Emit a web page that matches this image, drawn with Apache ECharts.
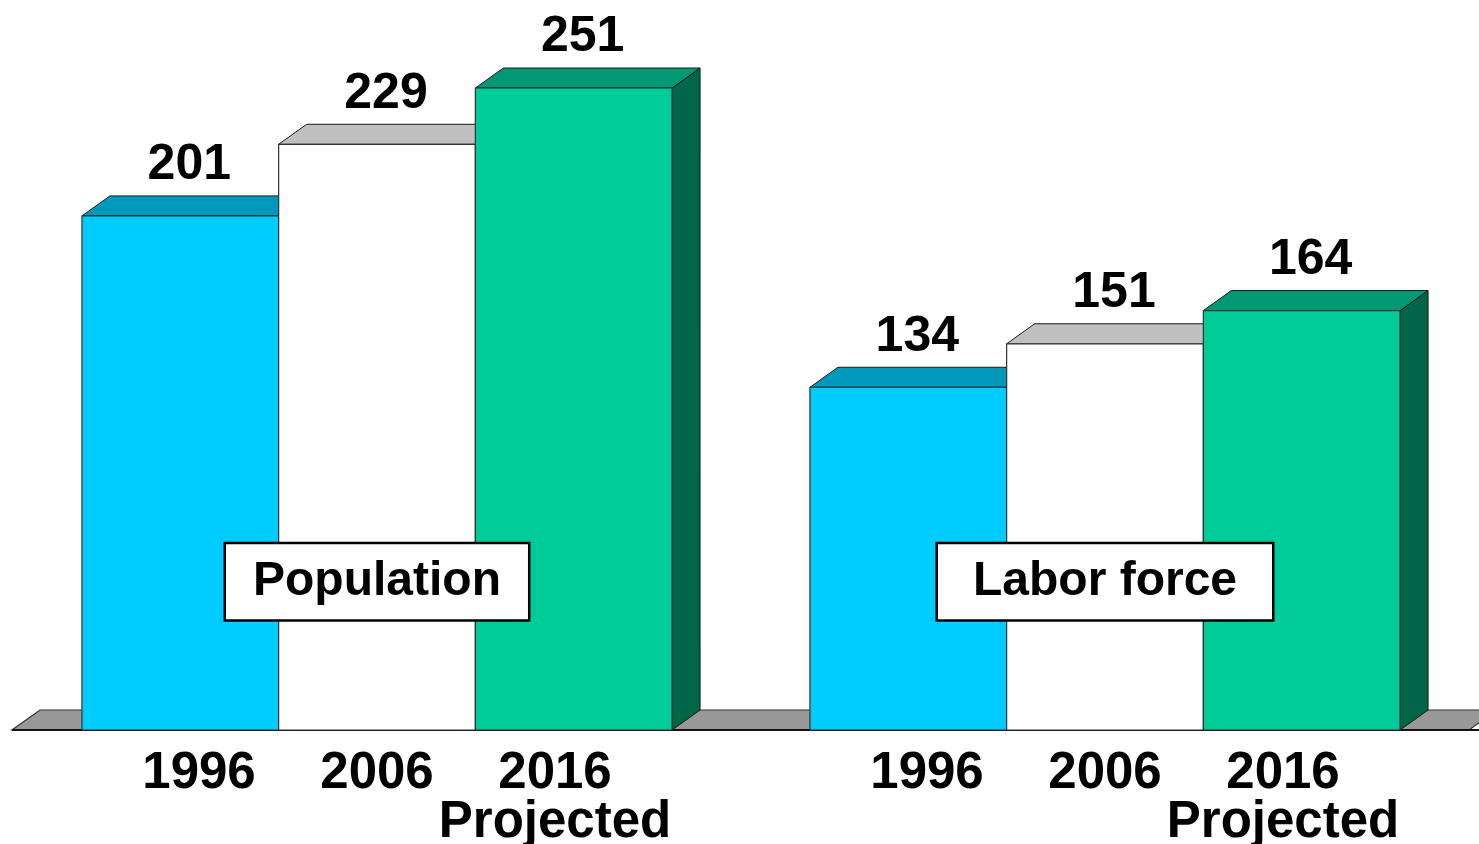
<!DOCTYPE html>
<html>
<head>
<meta charset="utf-8">
<script src="https://cdn.jsdelivr.net/npm/echarts@6/dist/echarts.min.js"></script>
<style>
	html, body { margin: 0; padding: 0; background: #fff; }
	#chart { width: 1479px; height: 844px; }
</style>
</head>
<body>
<div id="chart"></div>
<script>
// 数据
let groups = ["Population", "Labor force"]
let years = ["1996", "2006", "2016"]
let yearNotes = ["", "", "Projected"]
let population = [201, 229, 251]
let laborForce = [134, 151, 164]

// 样式
let faceColors = [
	{front: "#00CCFF", top: "#0099BB", side: "#006E88"},
	{front: "#FFFFFF", top: "#C0C0C0", side: "#8A8A8A"},
	{front: "#00CC99", top: "#009973", side: "#006647"}
]
let boxPadX = [27, 35]
let fontFamily = "'Liberation Sans', Arial, sans-serif"
let depthX = 28
let depthY = 20
let barRatio = 0.2702
let labelSpread = 0.2445
let edge = "#1a1a1a"

function barRenderer(yearIndex) {
	return function (params, api) {
		let cat = api.value(0)
		let value = api.value(1)
		let base = api.coord([cat, 0])
		let top = api.coord([cat, value])
		let band = api.size([1, 0])[0]
		let barW = band * barRatio
		let x0 = base[0] + (yearIndex - 1.5) * barW
		let x1 = x0 + barW
		let y0 = top[1]
		let y1 = base[1]
		let c = faceColors[yearIndex]
		let children = [
			{
				type: "polygon",
				shape: {points: [[x1, y0], [x1 + depthX, y0 - depthY], [x1 + depthX, y1 - depthY], [x1, y1]]},
				style: {fill: c.side, stroke: edge, lineWidth: 1}
			},
			{
				type: "polygon",
				shape: {points: [[x0, y0], [x1, y0], [x1 + depthX, y0 - depthY], [x0 + depthX, y0 - depthY]]},
				style: {fill: c.top, stroke: edge, lineWidth: 1}
			},
			{
				type: "rect",
				shape: {x: x0, y: y0, width: barW, height: y1 - y0},
				style: {fill: c.front, stroke: "#333", lineWidth: 1.2}
			},
			{
				type: "text",
				x: (x0 + x1) / 2 + 9,
				y: y0 - 50.5,
				style: {
					text: String(value),
					fill: "#000",
					fontSize: 50,
					fontWeight: "bold",
					fontFamily: fontFamily,
					align: "center",
					verticalAlign: "middle"
				}
			}
		]
		let labelX = base[0] + (yearIndex - 1) * band * labelSpread
		children.push({
			type: "text",
			x: labelX,
			y: y1 + 43.5,
			style: {
				text: years[yearIndex],
				fill: "#000",
				fontSize: 51,
				fontWeight: "bold",
				fontFamily: fontFamily,
				align: "center",
				verticalAlign: "middle"
			}
		})
		if (yearNotes[yearIndex]) {
			children.push({
				type: "text",
				x: labelX,
				y: y1 + 93,
				style: {
					text: yearNotes[yearIndex],
					fill: "#000",
					fontSize: 51,
					fontWeight: "bold",
					fontFamily: fontFamily,
					align: "center",
					verticalAlign: "middle"
				}
			})
		}
		return {type: "group", children: children}
	}
}

let series = [
	{
		name: "floor",
		type: "custom",
		data: [[0, 0]],
		silent: true,
		renderItem: function (params, api) {
			let cs = params.coordSys
			let y = api.coord([0, 0])[1]
			let xl = cs.x - 1
			let xr = cs.x + cs.width
			return {
				type: "group",
				children: [
					{
						type: "polygon",
						shape: {points: [[xl, y], [xr, y], [xr + depthX, y - depthY], [xl + depthX, y - depthY]]},
						style: {fill: "#999999", stroke: "#333", lineWidth: 1.2}
					},
					{
						type: "line",
						shape: {x1: xl, y1: y, x2: cs.x + cs.width + 20, y2: y},
						style: {stroke: "#111", lineWidth: 2}
					}
				]
			}
		}
	}
]

years.forEach(function (year, i) {
	series.push({
		name: year,
		type: "custom",
		renderItem: barRenderer(i),
		data: [[0, population[i]], [1, laborForce[i]]]
	})
})

series.push({
	name: "groups",
	type: "custom",
	data: groups.map(function (g, i) {
		return [i, 58]
	}),
	renderItem: function (params, api) {
		let p = api.coord([api.value(0), api.value(1)])
		let px = boxPadX[params.dataIndex]
		return {
			type: "text",
			x: p[0],
			y: p[1],
			style: {
				text: groups[params.dataIndex],
				fill: "#000",
				fontSize: 48,
				fontWeight: "bold",
				fontFamily: fontFamily,
				align: "center",
				verticalAlign: "middle",
				backgroundColor: "#fff",
				borderColor: "#000",
				borderWidth: 2.5,
				padding: [16, px, 11, px]
			}
		}
	}
})

let chart = echarts.init(document.getElementById("chart"))
chart.setOption({
	animation: false,
	grid: {left: 13, right: 10, top: 65, bottom: 114},
	xAxis: {type: "category", data: groups, show: false},
	yAxis: {type: "value", min: 0, max: 260, show: false},
	series: series
})
</script>
</body>
</html>
